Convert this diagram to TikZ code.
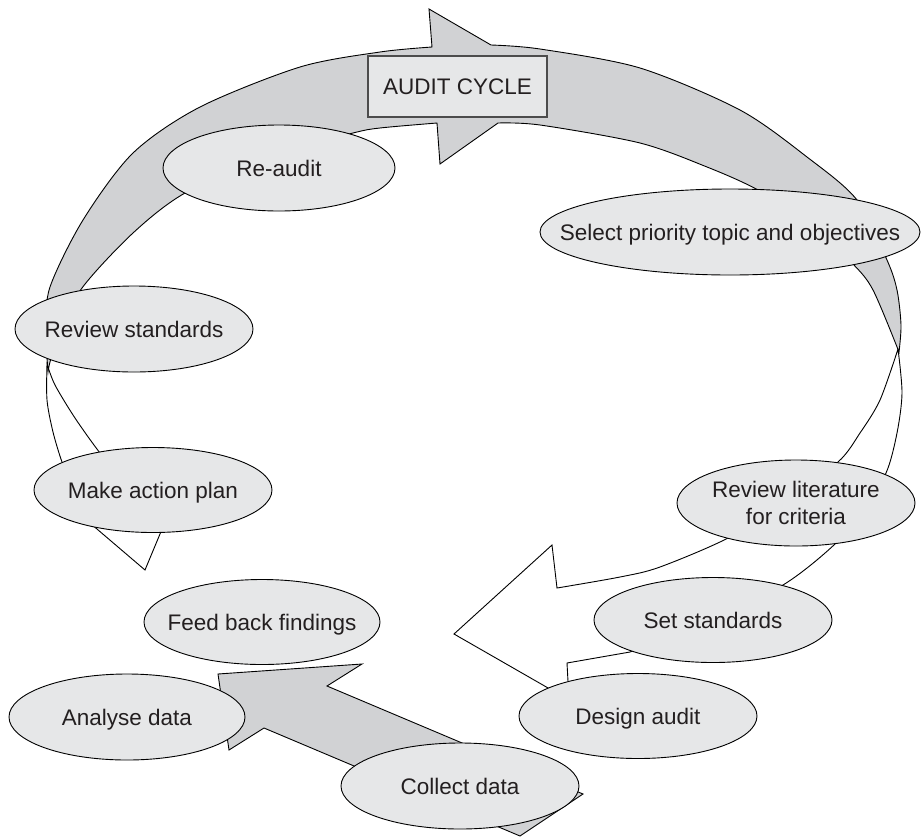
\documentclass[tikz,border=0pt]{standalone}
\usepackage{fontspec}
\setmainfont{Liberation Sans}
\usetikzlibrary{shapes.geometric}
\definecolor{bandgray}{RGB}{209,210,212}
\definecolor{ellfill}{RGB}{230,231,232}
\definecolor{inkc}{RGB}{35,31,32}
\tikzset{
  band/.style={fill=bandgray, draw=black, line width=0.9pt},
  hollow/.style={fill=white, draw=black, line width=0.9pt},
  ell/.style={ellipse, draw=black, fill=ellfill, line width=0.9pt, inner sep=0pt},
  lbl/.style={text=inkc, font=\fontsize{22.5}{27}\selectfont, inner sep=0pt, text height=16.1pt, text depth=0pt},
  lbltwo/.style={text=inkc, font=\fontsize{22.5}{27}\selectfont, inner sep=0pt, align=center},
  titlebox/.style={draw=black!70, fill=ellfill, line width=1.2pt, minimum width=179pt, minimum height=61pt, inner sep=0pt}
}
\begin{document}
\begin{tikzpicture}[x=1pt,y=-1pt]
\useasboundingbox (0,0) rectangle (921,836);

% left white curved arrow
\path[hollow] plot[smooth] coordinates {(47,364) (47,400) (53,432) (62,462) (72,485) (80,495)}
  -- (70,506) -- (145,570) -- (175,498) -- (140,490)
  -- plot[smooth] coordinates {(140,490) (118,473) (100,453) (75,418) (55,385) (47,364)} -- cycle;

% right white curved arrow
\path[hollow] plot[smooth] coordinates {(898,349) (902,393) (897,433) (886,473) (862,510) (835,544) (783,585) (706,622) (630,652)}
  -- (567,663) -- (569,700) -- (454,634) -- (552,545) -- (557,588)
  -- plot[smooth] coordinates {(557,588) (620,577) (660,567) (730,537) (785,500) (838,462) (860,433) (880,400) (898,349)} -- cycle;

% top grey curved band with arrowhead
\path[band] plot[smooth] coordinates {(48,372) (46,330) (50,287) (83,220) (133,153) (200,107) (300,67) (380,52) (432,47)}
  -- (429,9)
  -- plot[smooth] coordinates {(491,45) (540,49) (640,68) (740,110) (807,157) (857,200) (887,260) (897,290) (901,325) (899,352)}
  -- plot[smooth] coordinates {(899,352) (873,290) (852,263) (810,224) (758,190) (707,167) (640,143) (540,125) (498,123)}
  -- (440,164)
  -- plot[smooth] coordinates {(437,123) (380,128) (353,133) (270,155) (185,193) (133,233) (82,288) (58,335) (50,362) (48,372)} -- cycle;

% straight grey arrow
\path[band] (583,794) -- (327,686) -- (362,664) -- (218,674) -- (229,750) -- (264,728) -- (520,836) -- cycle;

% title box
\node[titlebox] (audit) at (457.5,86.5) {};
\node[lbl] at (audit) {AUDIT CYCLE};

% stages
\node[ell, minimum width=232pt, minimum height=86pt] (reaudit) at (279,168) {};
\node[lbl] at (reaudit) {Re-audit};

\node[ell, minimum width=380pt, minimum height=86pt] (select) at (730,232) {};
\node[lbl] at (select) {Select priority topic and objectives};

\node[ell, minimum width=238pt, minimum height=86pt] (revstd) at (134,329) {};
\node[lbl] at (revstd) {Review standards};

\node[ell, minimum width=238pt, minimum height=85pt] (action) at (153,490) {};
\node[lbl] at (action) {Make action plan};

\node[ell, minimum width=238pt, minimum height=86pt] (revlit) at (796,503) {};
\node[lbltwo] at (revlit) {Review literature\\for criteria};

\node[ell, minimum width=236pt, minimum height=85pt] (feed) at (262,622) {};
\node[lbl] at (feed) {Feed back findings};

\node[ell, minimum width=238pt, minimum height=85pt] (setstd) at (713,620) {};
\node[lbl] at (setstd) {Set standards};

\node[ell, minimum width=236pt, minimum height=86pt] (analyse) at (127,717) {};
\node[lbl] at (analyse) {Analyse data};

\node[ell, minimum width=238pt, minimum height=85pt] (design) at (638,716) {};
\node[lbl] at (design) {Design audit};

\node[ell, minimum width=238pt, minimum height=86pt] (collect) at (460,786) {};
\node[lbl] at (collect) {Collect data};
\end{tikzpicture}
\end{document}
